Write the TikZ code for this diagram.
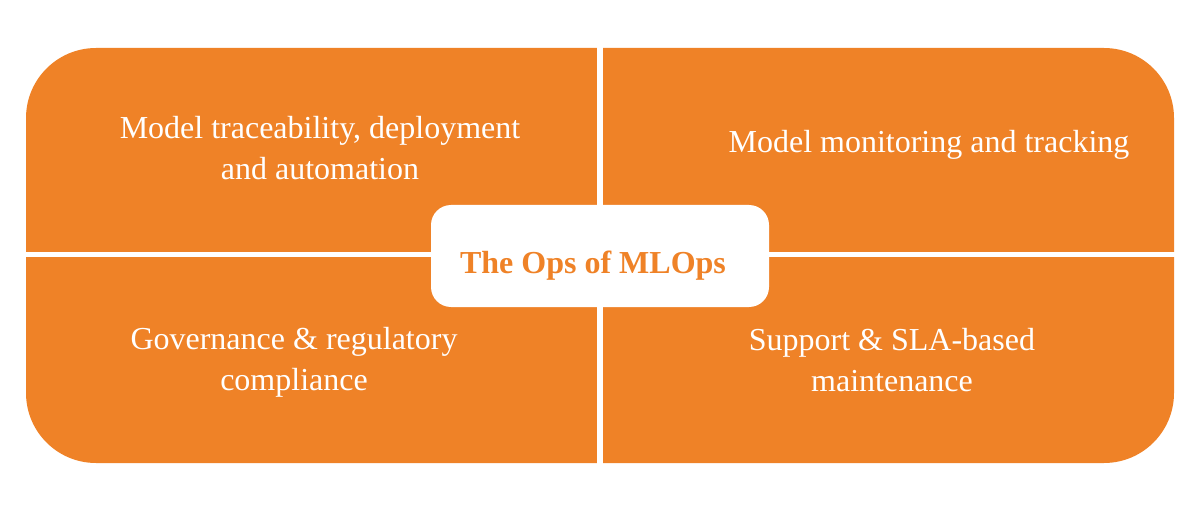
\documentclass[tikz,border=0pt]{standalone}
\usepackage{fontspec}
\setmainfont{Liberation Serif}
\usepackage{xcolor}
\definecolor{opsorange}{HTML}{EF8227}

\begin{document}
\begin{tikzpicture}[x=1pt, y=-1pt,
    quadtext/.style={text=white, align=center, inner sep=0pt, anchor=base, font=\fontsize{32}{41}\selectfont}]
    \useasboundingbox (0,0) rectangle (1200,513);

    % orange panel, split into four by white gaps
    \fill [opsorange, rounded corners=70pt] (26,48) rectangle (1174,463);
    \draw [white, line width=6pt] (600,40) -- (600,470);
    \draw [white, line width=5pt] (20,254.5) -- (1180,254.5);

    % base is the last line for the two-line texts
    \node (trace) [quadtext] at (320,180) {Model traceability, deployment\\and automation};
    \node (monitor) [quadtext] at (929,153) {Model monitoring and tracking};
    \node (govern) [quadtext] at (294,390) {Governance \& regulatory\\compliance};
    \node (support) [quadtext] at (892,391) {Support \& SLA-based\\maintenance};

    \node (title) [fill=white, rounded corners=20pt, minimum width=338pt, minimum height=102pt, anchor=center] at (600,256) {};
    \node (titletext) [text=opsorange, inner sep=0pt, anchor=base, font=\fontsize{32}{41}\selectfont\bfseries] at (593,273) {The Ops of MLOps};
\end{tikzpicture}
\end{document}
